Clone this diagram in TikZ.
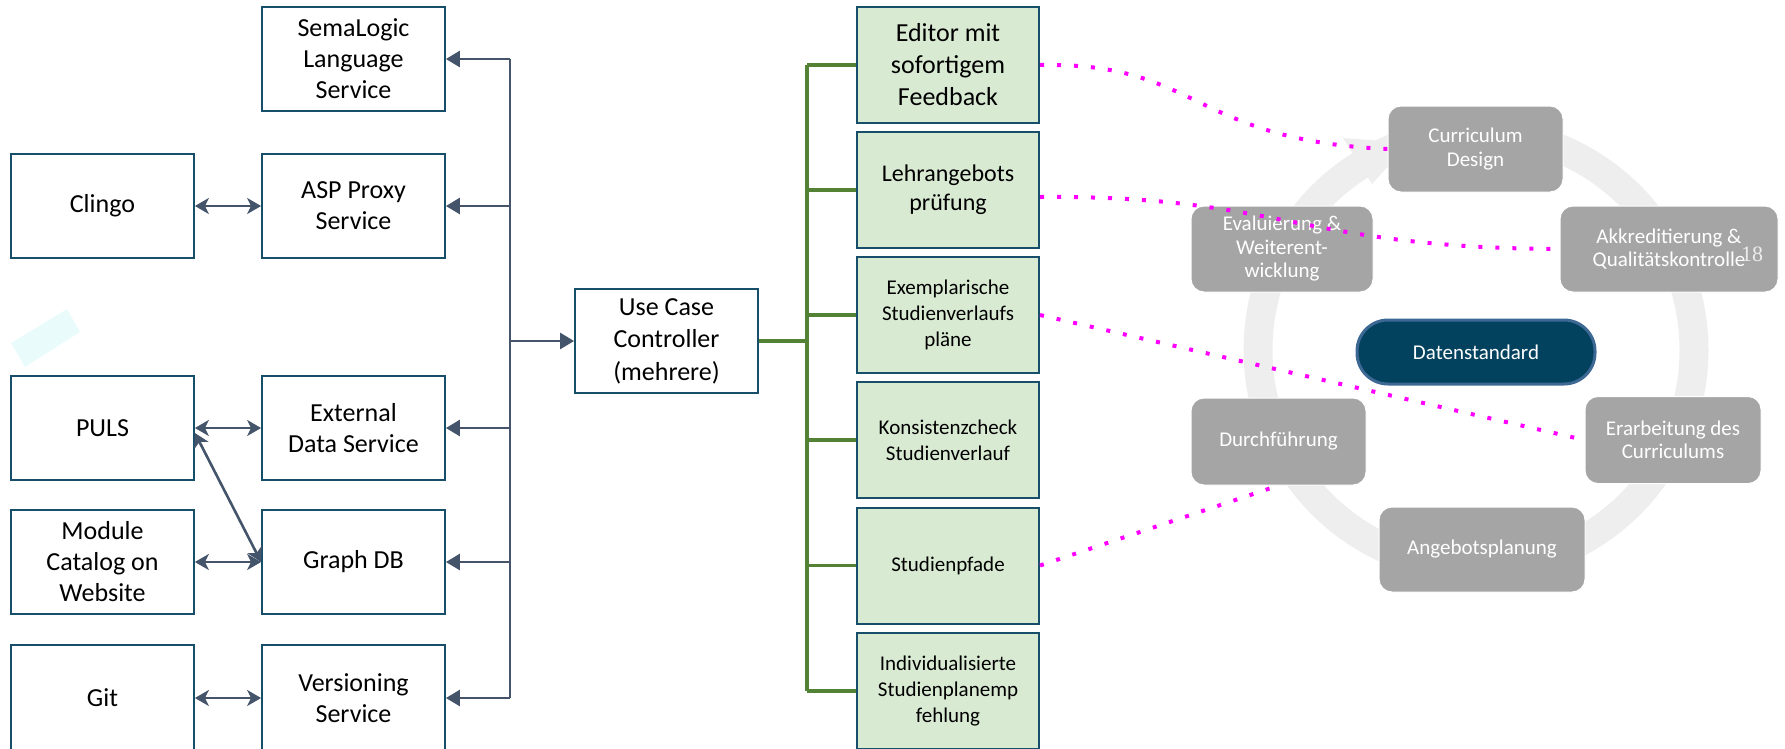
\documentclass[tikz,border=0pt]{standalone}
\usepackage{fontspec}
\setmainfont{Carlito}
\newfontfamily\serifnum{Liberation Serif}
\usetikzlibrary{arrows.meta,calc}
\definecolor{boxblue}{RGB}{23,78,105}
\definecolor{slate}{RGB}{68,84,106}
\definecolor{grline}{RGB}{84,130,53}
\definecolor{grfill}{RGB}{217,234,211}
\definecolor{graybox}{RGB}{165,165,165}
\definecolor{ringgray}{RGB}{238,238,238}
\definecolor{datfill}{RGB}{3,66,94}
\definecolor{datdraw}{RGB}{62,104,148}
\definecolor{mag}{RGB}{255,0,255}
\definecolor{palecyan}{RGB}{234,251,251}
\tikzset{
  wbox/.style={draw=boxblue, line width=1.8pt, fill=white, minimum width=183pt, minimum height=104pt, inner sep=0pt, align=center, font=\fontsize{26}{31}\selectfont},
  gbox/.style={draw=boxblue, line width=2pt, fill=grfill, minimum width=182pt, minimum height=116pt, inner sep=0pt, align=center},
  gfA/.style={font=\fontsize{26}{32}\selectfont},
  gfB/.style={font=\fontsize{24}{29}\selectfont},
  gfC/.style={font=\fontsize{21}{26}\selectfont},
  sbox/.style={draw=white, line width=1pt, fill=graybox, rounded corners=13pt, inner sep=0pt, align=center, text=white, font=\fontsize{21}{23.5}\selectfont},
  busarrow/.style={draw=slate, line width=2.6pt, -{Triangle[length=14pt,width=16pt]}},
  dblarrow/.style={draw=slate, line width=2.6pt, {Stealth[length=14pt,width=16pt,inset=4pt]}-{Stealth[length=14pt,width=16pt,inset=4pt]}},
  busline/.style={draw=slate, line width=2.6pt},
  grbranch/.style={draw=grline, line width=3.6pt},
  magdots/.style={draw=mag, line width=4pt, dash pattern=on 4pt off 13pt},
}
\begin{document}
\begin{tikzpicture}[x=1pt,y=-1pt]
\useasboundingbox (0,0) rectangle (1785,748);
% pale cyan shape
\fill[palecyan] (11,343) -- (67,309) -- (80,332) -- (25,367) -- cycle;
% left boxes
\node[wbox] (clingo) at (102.5,206) {Clingo};
\node[wbox] (puls) at (102.5,428) {PULS};
\node[wbox] (module) at (102.5,562) {Module\\Catalog on\\Website};
\node[wbox, minimum height=106pt] (git) at (102.5,698) {Git};
% middle boxes
\node[wbox] (sema) at (353.5,59) {SemaLogic\\Language\\Service};
\node[wbox] (asp) at (353.5,206) {ASP Proxy\\Service};
\node[wbox] (ext) at (353.5,428) {External\\Data Service};
\node[wbox] (graph) at (353.5,562) {Graph DB};
\node[wbox, minimum height=106pt] (vers) at (353.5,698) {Versioning\\Service};
% use case
\node[wbox, font=\fontsize{26}{32.5}\selectfont] (uc) at (666.5,341) {Use Case\\Controller\\(mehrere)};
% bus
\coordinate (bus) at (510,0);
\draw[busline] (sema.east -| bus) -- (vers.east -| bus);
\draw[busarrow] (sema.east -| bus) -- (sema.east);
\draw[busarrow] (asp.east -| bus) -- (asp.east);
\draw[busarrow] (ext.east -| bus) -- (ext.east);
\draw[busarrow] (graph.east -| bus) -- (graph.east);
\draw[busarrow] (vers.east -| bus) -- (vers.east);
\draw[busarrow] (uc.west -| bus) -- (uc.west);
% double arrows
\draw[dblarrow] (clingo.east) -- (asp.west);
\draw[dblarrow] (puls.east) -- (ext.west);
\draw[dblarrow] (module.east) -- (graph.west);
\draw[dblarrow] (git.east) -- (vers.west);
\draw[dblarrow] ([yshift=-5pt]puls.east) -- (graph.west);
% green boxes
\node[gbox, gfA] (ed) at (948,65) {Editor mit\\sofortigem\\Feedback};
\node[gbox, gfB] (lehr) at (948,190) {Lehrangebots\\prüfung};
\node[gbox, gfC] (ex) at (948,315) {Exemplarische\\Studienverlaufs\\pläne};
\node[gbox, gfC] (kon) at (948,440) {Konsistenzcheck\\Studienverlauf};
\node[gbox, gfC] (sp) at (948,565.5) {Studienpfade};
\node[gbox, gfC] (ind) at (948,691) {Individualisierte\\Studienplanemp\\fehlung};
\coordinate (gbus) at (807,0);
\draw[grbranch] (uc.east) -- (uc.east -| gbus);
\draw[grbranch] (ed.west -| gbus) -- (ind.west -| gbus);
\foreach \n in {ed,lehr,ex,kon,sp,ind}{
  \draw[grbranch] (\n.west -| gbus) -- (\n.west);
}
% cycle ring
\draw[ringgray, line width=29pt] (1476,350) circle[radius=218];
\fill[ringgray] (1372,184) -- (1343,138) -- (1409,143) -- cycle;
% gray boxes
\node[sbox, minimum width=175pt, minimum height=86pt] (cd) at (1475.5,149) {Curriculum\\Design};
\node[sbox, minimum width=182pt, minimum height=86pt] (eval) at (1282,249) {Evaluierung \&\\Weiterent-\\wicklung};
\node[sbox, minimum width=218pt, minimum height=86pt] (akk) at (1669,249) {Akkreditierung \&\\Qualitätskontrolle};
\node[sbox, minimum width=175pt, minimum height=87pt] (durch) at (1278.5,441.5) {Durchführung};
\node[sbox, minimum width=176pt, minimum height=87pt] (erarb) at (1673,440) {Erarbeitung des\\Curriculums};
\node[sbox, minimum width=206pt, minimum height=85pt] (ang) at (1482,549.5) {Angebotsplanung};
\node[draw=datdraw, line width=3pt, fill=datfill, rounded corners=31pt, minimum width=238pt, minimum height=64pt, inner sep=0pt, text=white, font=\fontsize{21}{25}\selectfont] (dat) at (1476,352) {Datenstandard};
\node[text=white!85!gray, font=\serifnum\fontsize{22}{24}\selectfont, inner sep=0pt] (num) at (1752,254) {18};
% magenta dotted links
\draw[magdots] (ed.east) .. controls (1200,62) and (1190,140) .. (cd.west);
\draw[magdots] ($(lehr.east)+(0,7)$) .. controls (1280,195) and (1300,248) .. (akk.west);
\draw[magdots] (ex.east) -- (erarb.west);
\draw[magdots] (sp.east) -- (durch.south);
\end{tikzpicture}
\end{document}
